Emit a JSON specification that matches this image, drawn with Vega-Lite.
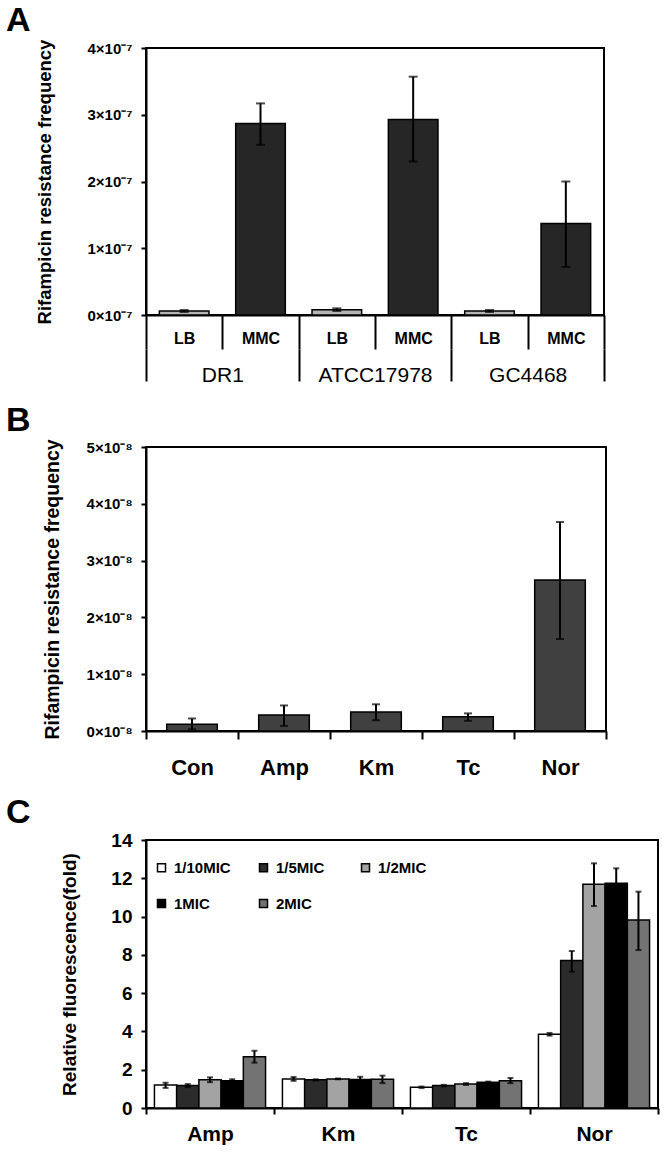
{
  "$schema": "https://vega.github.io/schema/vega-lite/v6.json",
  "padding": {"left": 5, "top": 3, "right": 0, "bottom": 0},
  "background": "white",
  "spacing": 16,
  "resolve": {"scale": {"color": "independent"}, "legend": {"color": "independent"}},
  "config": {
    "font": "Liberation Sans",
    "view": {"stroke": "black", "strokeWidth": 2},
    "axis": {
      "domainColor": "black", "domainWidth": 2, "tickColor": "black", "tickWidth": 2,
      "labelColor": "black", "titleColor": "black", "labelFont": "Liberation Sans", "titleFont": "Liberation Sans",
      "grid": false, "labelFontWeight": "bold", "titleFontWeight": "bold"
    },
    "axisY": {"labelFontSize": 15, "titleFontSize": 18.5, "tickSize": 5, "labelPadding": 9},
    "title": {"font": "Liberation Sans", "color": "black", "fontWeight": "bold", "fontSize": 34, "anchor": "start", "frame": "group", "dx": -140, "offset": 1},
    "legend": {"labelFont": "Liberation Sans", "labelColor": "black"}
  },
  "vconcat": [
    {
      "width": 458,
      "height": 267,
      "title": {"text": "A"},
      "data": {"values": [
        {"strain": "DR1", "cond": "LB", "sample": "DR1 LB", "v": 0.06e-7, "lo": 0.045e-7, "hi": 0.075e-7},
        {"strain": "DR1", "cond": "MMC", "sample": "DR1 MMC", "v": 2.87e-7, "lo": 2.55e-7, "hi": 3.17e-7},
        {"strain": "ATCC17978", "cond": "LB", "sample": "ATCC17978 LB", "v": 0.08e-7, "lo": 0.06e-7, "hi": 0.1e-7},
        {"strain": "ATCC17978", "cond": "MMC", "sample": "ATCC17978 MMC", "v": 2.93e-7, "lo": 2.3e-7, "hi": 3.57e-7},
        {"strain": "GC4468", "cond": "LB", "sample": "GC4468 LB", "v": 0.06e-7, "lo": 0.045e-7, "hi": 0.075e-7},
        {"strain": "GC4468", "cond": "MMC", "sample": "GC4468 MMC", "v": 1.37e-7, "lo": 0.72e-7, "hi": 2.0e-7}
      ]},
      "layer": [
        {
          "layer": [
            {
              "mark": {"type": "bar", "stroke": "black", "strokeWidth": 1.5, "width": {"band": 0.65}},
              "encoding": {
                "x": {"field": "sample", "type": "nominal", "sort": null,
                      "scale": {"paddingInner": 0, "paddingOuter": 0},
                      "axis": {"title": null, "tickBand": "extent", "tickSize": 34, "labelPadding": -19, "labelFontSize": 16, "labelAngle": 0, "labelExpr": "split(datum.label, ' ')[1]"}},
                "y": {"field": "v", "type": "quantitative", "title": "Rifampicin resistance frequency",
                      "scale": {"domain": [0, 4e-7], "nice": false},
                      "axis": {"values": [0, 1e-7, 2e-7, 3e-7, 4e-7], "labelExpr": "format(datum.value*1e7, '.0f') + '×10⁻⁷'", "titlePadding": 33, "titleFontSize": 18.5}},
                "color": {"field": "cond", "type": "nominal", "scale": {"domain": ["LB", "MMC"], "range": ["#b4b4b4", "#262626"]}, "legend": null}
              }
            },
            {
              "mark": {"type": "rule", "color": "black", "strokeWidth": 2},
              "encoding": {
                "x": {"field": "sample", "type": "nominal", "sort": null},
                "y": {"field": "lo", "type": "quantitative", "title": "Rifampicin resistance frequency",
                      "axis": {"values": [0, 1e-7, 2e-7, 3e-7, 4e-7], "labelExpr": "format(datum.value*1e7, '.0f') + '×10⁻⁷'", "titlePadding": 33, "titleFontSize": 18.5}},
                "y2": {"field": "hi"}
              }
            },
            {
              "mark": {"type": "tick", "color": "black", "thickness": 2, "size": 9},
              "encoding": {
                "x": {"field": "sample", "type": "nominal", "sort": null},
                "y": {"field": "lo", "type": "quantitative", "title": "Rifampicin resistance frequency",
                      "axis": {"values": [0, 1e-7, 2e-7, 3e-7, 4e-7], "labelExpr": "format(datum.value*1e7, '.0f') + '×10⁻⁷'", "titlePadding": 33, "titleFontSize": 18.5}}
              }
            },
            {
              "mark": {"type": "tick", "color": "black", "thickness": 2, "size": 9},
              "encoding": {
                "x": {"field": "sample", "type": "nominal", "sort": null},
                "y": {"field": "hi", "type": "quantitative", "title": "Rifampicin resistance frequency",
                      "axis": {"values": [0, 1e-7, 2e-7, 3e-7, 4e-7], "labelExpr": "format(datum.value*1e7, '.0f') + '×10⁻⁷'", "titlePadding": 33, "titleFontSize": 18.5}}
              }
            }
          ]
        },
        {
          "mark": {"type": "tick", "opacity": 0},
          "encoding": {
            "x": {"field": "strain", "type": "nominal", "sort": null,
                  "scale": {"paddingInner": 0, "paddingOuter": 0},
                  "axis": {"orient": "bottom", "offset": 34, "title": null, "domain": false, "tickBand": "extent", "tickSize": 32, "labelPadding": -17, "labelFontSize": 21, "labelFontWeight": "normal", "labelAngle": 0}},
            "y": {"field": "v", "type": "quantitative", "title": "Rifampicin resistance frequency",
                  "axis": {"values": [0, 1e-7, 2e-7, 3e-7, 4e-7], "labelExpr": "format(datum.value*1e7, '.0f') + '×10⁻⁷'", "titlePadding": 33, "titleFontSize": 18.5}}
          }
        }
      ],
      "resolve": {"scale": {"x": "independent"}, "axis": {"x": "independent"}}
    },
    {
      "width": 460,
      "height": 284,
      "title": {"text": "B"},
      "data": {"values": [
        {"drug": "Con", "v": 0.12e-8, "lo": 0.03e-8, "hi": 0.22e-8},
        {"drug": "Amp", "v": 0.28e-8, "lo": 0.09e-8, "hi": 0.45e-8},
        {"drug": "Km", "v": 0.335e-8, "lo": 0.19e-8, "hi": 0.47e-8},
        {"drug": "Tc", "v": 0.25e-8, "lo": 0.18e-8, "hi": 0.31e-8},
        {"drug": "Nor", "v": 2.66e-8, "lo": 1.62e-8, "hi": 3.68e-8}
      ]},
      "encoding": {
        "x": {"field": "drug", "type": "nominal", "sort": null,
              "scale": {"paddingInner": 0, "paddingOuter": 0},
              "axis": {"title": null, "tickBand": "extent", "tickSize": 8, "labelPadding": 18, "labelFontSize": 22, "labelAngle": 0}}
      },
      "layer": [
        {
          "mark": {"type": "bar", "stroke": "black", "strokeWidth": 1.5, "color": "#404040", "width": {"band": 0.55}},
          "encoding": {
            "y": {"field": "v", "type": "quantitative", "title": "Rifampicin resistance frequency",
                  "scale": {"domain": [0, 5e-8], "nice": false},
                  "axis": {"values": [0, 1e-8, 2e-8, 3e-8, 4e-8, 5e-8], "labelExpr": "format(datum.value*1e8, '.0f') + '×10⁻⁸'", "titlePadding": 24, "titleFontSize": 19.5}}
          }
        },
        {
          "mark": {"type": "rule", "color": "black", "strokeWidth": 2},
          "encoding": {
            "y": {"field": "lo", "type": "quantitative", "title": "Rifampicin resistance frequency",
                  "axis": {"values": [0, 1e-8, 2e-8, 3e-8, 4e-8, 5e-8], "labelExpr": "format(datum.value*1e8, '.0f') + '×10⁻⁸'", "titlePadding": 24, "titleFontSize": 19.5}},
            "y2": {"field": "hi"}
          }
        },
        {
          "mark": {"type": "tick", "color": "black", "thickness": 2, "size": 8},
          "encoding": {"y": {"field": "lo", "type": "quantitative", "title": "Rifampicin resistance frequency",
                  "axis": {"values": [0, 1e-8, 2e-8, 3e-8, 4e-8, 5e-8], "labelExpr": "format(datum.value*1e8, '.0f') + '×10⁻⁸'", "titlePadding": 24, "titleFontSize": 19.5}}}
        },
        {
          "mark": {"type": "tick", "color": "black", "thickness": 2, "size": 8},
          "encoding": {"y": {"field": "hi", "type": "quantitative", "title": "Rifampicin resistance frequency",
                  "axis": {"values": [0, 1e-8, 2e-8, 3e-8, 4e-8, 5e-8], "labelExpr": "format(datum.value*1e8, '.0f') + '×10⁻⁸'", "titlePadding": 24, "titleFontSize": 19.5}}}
        }
      ]
    },
    {
      "width": 512,
      "height": 268,
      "title": {"text": "C"},
      "data": {"values": [
        {"drug": "Amp", "conc": "1/10MIC", "v": 1.2, "lo": 1.05, "hi": 1.32},
        {"drug": "Amp", "conc": "1/5MIC", "v": 1.17, "lo": 1.09, "hi": 1.25},
        {"drug": "Amp", "conc": "1/2MIC", "v": 1.47, "lo": 1.35, "hi": 1.6},
        {"drug": "Amp", "conc": "1MIC", "v": 1.43, "lo": 1.38, "hi": 1.5},
        {"drug": "Amp", "conc": "2MIC", "v": 2.68, "lo": 2.37, "hi": 2.99},
        {"drug": "Km", "conc": "1/10MIC", "v": 1.52, "lo": 1.42, "hi": 1.62},
        {"drug": "Km", "conc": "1/5MIC", "v": 1.47, "lo": 1.44, "hi": 1.5},
        {"drug": "Km", "conc": "1/2MIC", "v": 1.52, "lo": 1.5, "hi": 1.54},
        {"drug": "Km", "conc": "1MIC", "v": 1.49, "lo": 1.36, "hi": 1.63},
        {"drug": "Km", "conc": "2MIC", "v": 1.5, "lo": 1.3, "hi": 1.69},
        {"drug": "Tc", "conc": "1/10MIC", "v": 1.08, "lo": 1.04, "hi": 1.12},
        {"drug": "Tc", "conc": "1/5MIC", "v": 1.17, "lo": 1.13, "hi": 1.21},
        {"drug": "Tc", "conc": "1/2MIC", "v": 1.25, "lo": 1.2, "hi": 1.3},
        {"drug": "Tc", "conc": "1MIC", "v": 1.34, "lo": 1.3, "hi": 1.38},
        {"drug": "Tc", "conc": "2MIC", "v": 1.43, "lo": 1.3, "hi": 1.57},
        {"drug": "Nor", "conc": "1/10MIC", "v": 3.85, "lo": 3.78, "hi": 3.92},
        {"drug": "Nor", "conc": "1/5MIC", "v": 7.7, "lo": 7.12, "hi": 8.2},
        {"drug": "Nor", "conc": "1/2MIC", "v": 11.69, "lo": 10.55, "hi": 12.78},
        {"drug": "Nor", "conc": "1MIC", "v": 11.74, "lo": 10.96, "hi": 12.52},
        {"drug": "Nor", "conc": "2MIC", "v": 9.82, "lo": 8.25, "hi": 11.3}
      ]},
      "encoding": {
        "x": {"field": "drug", "type": "nominal", "sort": null,
              "scale": {"paddingInner": 0, "paddingOuter": 0},
              "axis": {"title": null, "tickBand": "extent", "tickSize": 6, "labelPadding": 9, "labelFontSize": 21, "labelAngle": 0}},
        "xOffset": {"field": "conc", "type": "nominal", "sort": ["1/10MIC", "1/5MIC", "1/2MIC", "1MIC", "2MIC"],
                    "scale": {"paddingInner": 0, "paddingOuter": 0.38}}
      },
      "layer": [
        {
          "mark": {"type": "bar", "stroke": "black", "strokeWidth": 1.5},
          "encoding": {
            "y": {"field": "v", "type": "quantitative", "title": "Relative fluorescence(fold)",
                  "scale": {"domain": [0, 14], "nice": false},
                  "axis": {"values": [0, 2, 4, 6, 8, 10, 12, 14], "labelFontSize": 19, "titlePadding": 31, "titleFontSize": 19}},
            "color": {"field": "conc", "type": "nominal",
                      "scale": {"domain": ["1/10MIC", "1/5MIC", "1/2MIC", "1MIC", "2MIC"], "range": ["#ffffff", "#2b2b2b", "#a3a3a3", "#000000", "#737373"]},
                      "legend": {"orient": "none", "direction": "horizontal", "legendX": 8, "legendY": 20, "columns": 3, "title": null, "symbolType": "square", "symbolSize": 64, "symbolStrokeColor": "black", "symbolStrokeWidth": 1.5, "labelFontSize": 15, "labelFontWeight": "bold", "columnPadding": 25, "rowPadding": 20, "gridAlign": "all", "labelOffset": 5}}
          }
        },
        {
          "mark": {"type": "rule", "color": "black", "strokeWidth": 2},
          "encoding": {
            "y": {"field": "lo", "type": "quantitative", "title": "Relative fluorescence(fold)",
                  "axis": {"values": [0, 2, 4, 6, 8, 10, 12, 14], "labelFontSize": 19, "titlePadding": 31, "titleFontSize": 19}},
            "y2": {"field": "hi"}
          }
        },
        {
          "mark": {"type": "tick", "color": "black", "thickness": 2, "size": 6},
          "encoding": {"y": {"field": "lo", "type": "quantitative", "title": "Relative fluorescence(fold)",
                  "axis": {"values": [0, 2, 4, 6, 8, 10, 12, 14], "labelFontSize": 19, "titlePadding": 31, "titleFontSize": 19}}}
        },
        {
          "mark": {"type": "tick", "color": "black", "thickness": 2, "size": 6},
          "encoding": {"y": {"field": "hi", "type": "quantitative", "title": "Relative fluorescence(fold)",
                  "axis": {"values": [0, 2, 4, 6, 8, 10, 12, 14], "labelFontSize": 19, "titlePadding": 31, "titleFontSize": 19}}}
        }
      ]
    }
  ]
}
